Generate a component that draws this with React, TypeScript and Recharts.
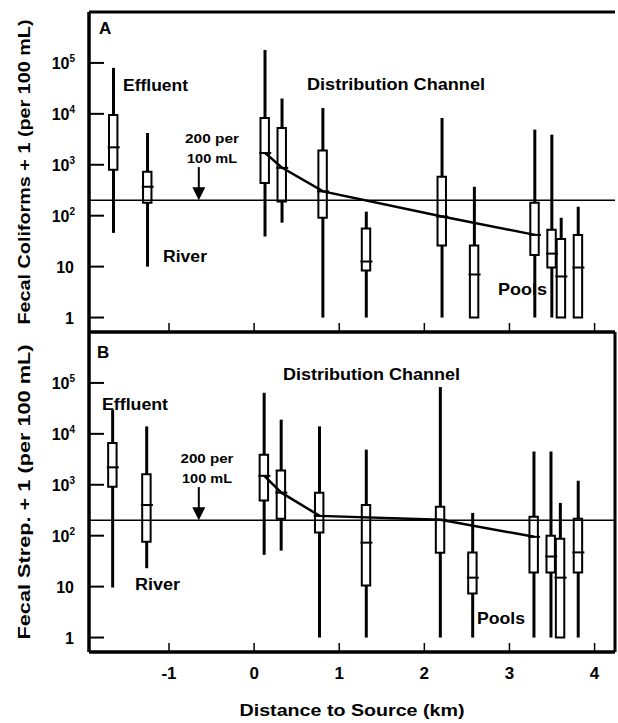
import React from 'react'
import {
  ComposedChart,
  Bar,
  Line,
  Scatter,
  XAxis,
  YAxis,
  ReferenceLine,
  ReferenceDot,
} from 'recharts'

// shared axes
const xTicks = [-1, 0, 1, 2, 3, 4]
const yTicks = [1, 10, 100, 1000, 10000, 100000]
const xDomain = [-1.94, 4.24]
const yDomain = [0.52, 1000000]
const onChannel = [false, false, true, true, true, false, true, false, true, false, false, false]

// panel A - fecal coliforms
const coliDist = [-1.65, -1.25, 0.13, 0.33, 0.81, 1.32, 2.21, 2.59, 3.3, 3.5, 3.61, 3.81]
const coliMin = [46, 10, 39, 73, 1, 1, 1, 1, 1, 1, 1, 1]
const coliQ1 = [800, 180, 440, 190, 91, 8.4, 26, 1, 17, 9.6, 1, 1]
const coliMed = [2200, 370, 1700, 870, 300, 12.6, 96, 7, 42, 18, 6.4, 9.6]
const coliQ3 = [9500, 730, 8300, 5300, 1900, 56, 580, 26, 180, 53, 35, 42]
const coliMax = [80000, 4200, 180000, 20000, 13000, 120, 8300, 370, 4900, 3900, 91, 150]

// panel B - fecal strep
const strepDist = [-1.66, -1.26, 0.12, 0.32, 0.77, 1.32, 2.19, 2.57, 3.29, 3.49, 3.6, 3.81]
const strepMin = [9.6, 23, 42, 51, 1, 1, 1, 1, 1, 1, 1, 1]
const strepQ1 = [910, 76, 490, 215, 115, 10.5, 46, 7.3, 19, 19, 1, 19]
const strepMed = [2200, 400, 1500, 700, 245, 73, 205, 15, 95, 39, 15, 47]
const strepQ3 = [6600, 1600, 3900, 1900, 700, 400, 370, 47, 235, 100, 87, 215]
const strepMax = [30000, 14000, 64000, 19000, 14000, 4900, 83000, 280, 4500, 4500, 440, 1200]

const guideline = 200
const arrowAt = -0.65

const font = '"Liberation Sans", Arial, Helvetica, sans-serif'

function buildRows(dist: number[], mins: number[], q1: number[], med: number[], q3: number[], maxs: number[]) {
  return dist.map((x, i) => ({
    x,
    whisker: [mins[i], maxs[i]],
    box: [q1[i], q3[i]],
    med: med[i],
    trend: onChannel[i] ? med[i] : null,
  }))
}

const coliRows = buildRows(coliDist, coliMin, coliQ1, coliMed, coliQ3, coliMax)
const strepRows = buildRows(strepDist, strepMin, strepQ1, strepMed, strepQ3, strepMax)

function YTick(props: any) {
  const { x, y, payload } = props
  const v = payload.value
  const exp = Math.round(Math.log10(v))
  return (
    <g>
      <line x1={x} x2={x + 15} y1={y} y2={y} stroke="#000" strokeWidth={2} />
      {exp < 2 ? (
        <text x={x - 15} y={y + 6} textAnchor="end" fontFamily={font} fontWeight="bold" fontSize={16} fill="#000">
          {v}
        </text>
      ) : (
        <text x={x - 14} y={y + 6} textAnchor="end" fontFamily={font} fontWeight="bold" fontSize={16} fill="#000">
          10
          <tspan dy={-7} fontSize={10}>
            {exp}
          </tspan>
        </text>
      )}
    </g>
  )
}

function XTick(props: any) {
  const { x, y, payload, showLabel } = props
  return (
    <g>
      <line x1={x} x2={x} y1={y} y2={y - 9} stroke="#000" strokeWidth={1.5} />
      {showLabel && (
        <text x={x} y={y + 27} textAnchor="middle" fontFamily={font} fontWeight="bold" fontSize={17} fill="#000">
          {payload.value}
        </text>
      )}
    </g>
  )
}

const MedianMark = (props: any) => (
  <line x1={props.cx - 6} x2={props.cx + 6} y1={props.cy} y2={props.cy} stroke="#000" strokeWidth={2} />
)

const ArrowHead = (props: any) => (
  <path d={`M${props.cx - 6.5},${props.cy - 13} L${props.cx + 6.5},${props.cy - 13} L${props.cx},${props.cy} Z`} fill="#000" />
)

const frame = { stroke: '#000', strokeWidth: 3, ifOverflow: 'visible' as const }

function Panel({ rows, height, top, bottom, xAxisHeight, showLabels, topBorder, rightBorder }: any) {
  return (
    <ComposedChart
      width={618}
      height={height}
      data={rows}
      margin={{ top, right: 3, bottom, left: 0 }}
    >
      <XAxis
        dataKey="x"
        type="number"
        domain={xDomain}
        ticks={xTicks}
        interval={0}
        allowDataOverflow
        height={xAxisHeight}
        tickLine={false}
        tickSize={0}
        tickMargin={0}
        tick={(p: any) => <XTick {...p} showLabel={showLabels} />}
        axisLine={{ stroke: '#000', strokeWidth: 3 }}
      />
      <XAxis xAxisId="b" dataKey="x" type="number" domain={xDomain} allowDataOverflow ticks={xTicks} hide />
      <YAxis
        type="number"
        scale="log"
        domain={yDomain}
        ticks={yTicks}
        interval={0}
        allowDataOverflow
        width={89}
        tickLine={false}
        tickSize={0}
        tickMargin={0}
        tick={<YTick />}
        axisLine={{ stroke: '#000', strokeWidth: 3 }}
      />
      <ReferenceLine x={xDomain[0]} {...frame} />
      <ReferenceLine y={yDomain[0]} {...frame} />
      {topBorder && <ReferenceLine y={yDomain[1]} {...frame} />}
      {rightBorder && <ReferenceLine x={xDomain[1]} {...frame} />}
      <ReferenceLine y={guideline} stroke="#000" strokeWidth={1.5} />
      <ReferenceLine
        segment={[
          { x: arrowAt, y: 900 },
          { x: arrowAt, y: 330 },
        ]}
        stroke="#000"
        strokeWidth={2}
      />
      <ReferenceDot x={arrowAt} y={guideline} r={0} shape={ArrowHead} />
      <Bar dataKey="whisker" barSize={3} fill="#000" isAnimationActive={false} />
      <Bar
        dataKey="box"
        xAxisId="b"
        barSize={11}
        fill="#fff"
        stroke="#000"
        strokeWidth={2}
        isAnimationActive={false}
      />
      <Line
        dataKey="trend"
        xAxisId="b"
        type="linear"
        connectNulls
        dot={false}
        stroke="#000"
        strokeWidth={2.5}
        isAnimationActive={false}
      />
      <Scatter dataKey="med" xAxisId="b" shape={MedianMark} isAnimationActive={false} />
    </ComposedChart>
  )
}

function Txt({ x, y, len, size = 17, anchor = 'start', children, rotate }: any) {
  return (
    <text
      x={x}
      y={y}
      textAnchor={anchor}
      fontFamily={font}
      fontWeight="bold"
      fontSize={size}
      fill="#000"
      textLength={len}
      lengthAdjust="spacingAndGlyphs"
      transform={rotate ? `rotate(-90 ${x} ${y})` : undefined}
    >
      {children}
    </text>
  )
}

export default function App() {
  return (
    <div style={{ position: 'absolute', left: 0, top: 0, width: 618, height: 723, background: '#fff' }}>
      <div style={{ position: 'absolute', left: 0, top: 0 }}>
        <Panel rows={coliRows} height={340} top={12} bottom={7} xAxisHeight={1} showLabels={false} topBorder />
      </div>
      <div style={{ position: 'absolute', left: 0, top: 320 }}>
        <Panel rows={strepRows} height={403} top={12} bottom={31} xAxisHeight={40} showLabels rightBorder />
      </div>
      <svg width={618} height={723} style={{ position: 'absolute', left: 0, top: 0, pointerEvents: 'none' }}>
        <Txt x={99} y={34}>A</Txt>
        <Txt x={123} y={91} len={65}>Effluent</Txt>
        <Txt x={163} y={262} len={44} size={16}>River</Txt>
        <Txt x={212} y={143} len={54} size={13} anchor="middle">200 per</Txt>
        <Txt x={212} y={163} len={50} size={13} anchor="middle">100 mL</Txt>
        <Txt x={307} y={90} len={178}>Distribution Channel</Txt>
        <Txt x={498} y={295} len={49}>Pools</Txt>

        <Txt x={97} y={358}>B</Txt>
        <Txt x={102} y={410} len={66}>Effluent</Txt>
        <Txt x={135} y={590} len={45} size={16}>River</Txt>
        <Txt x={207} y={463} len={53} size={13} anchor="middle">200 per</Txt>
        <Txt x={207} y={483} len={50} size={13} anchor="middle">100 mL</Txt>
        <Txt x={283} y={380} len={177}>Distribution Channel</Txt>
        <Txt x={477} y={624} len={48}>Pools</Txt>

        <Txt x={30} y={172} len={305} rotate anchor="middle">Fecal Coliforms + 1 (per 100 mL)</Txt>
        <Txt x={30} y={492} len={295} rotate anchor="middle">Fecal Strep. + 1 (per 100 mL)</Txt>
        <Txt x={352} y={716} len={225} anchor="middle">Distance to Source (km)</Txt>
      </svg>
    </div>
  )
}
